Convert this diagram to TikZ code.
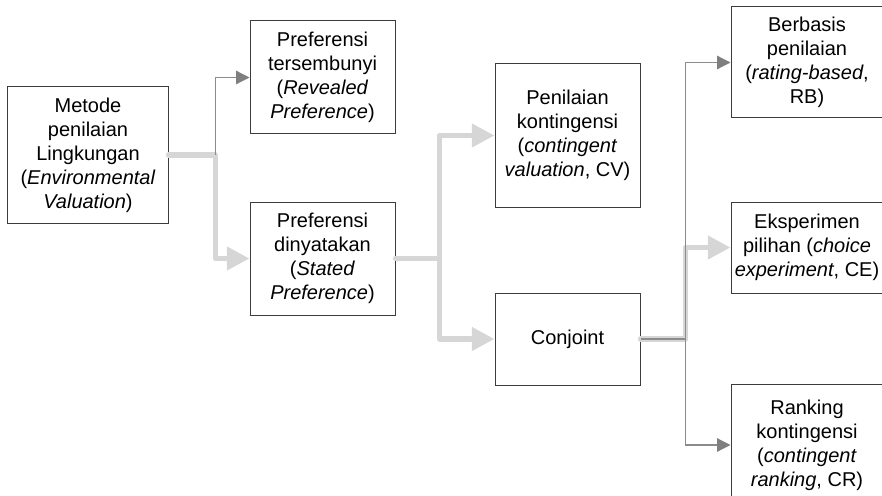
\documentclass[tikz,border=0pt]{standalone}
\usepackage{fontspec}
\setmainfont{Liberation Sans}
\usetikzlibrary{positioning}
\usetikzlibrary{calc}
\usetikzlibrary{arrows.meta}
\definecolor{boxline}{HTML}{3C3C3C}
\definecolor{lightline}{HTML}{D6D6D6}
\definecolor{thinline}{HTML}{8C8C8C}
\definecolor{arrhead}{HTML}{7F7F7F}

\begin{document}
\begin{tikzpicture}[
        box/.style={draw=boxline, line width=0.75pt, fill=white, align=center, inner sep=2pt,
            minimum width=108.75pt, font=\fontsize{15pt}{18pt}\selectfont},
        thickarr/.style={draw=lightline, line width=4pt, line join=round, line cap=round,
            -{Triangle[length=17pt, width=17pt]}},
        thinarr/.style={draw=thinline, line width=0.9pt,
            -{Triangle[length=10pt, width=10pt, color=arrhead]}}
    ]
        \useasboundingbox (-66pt,116.25pt) rectangle (595.5pt,-255.75pt);
        \clip (-66pt,116.25pt) rectangle (595.5pt,-255.75pt);

        \node[box, minimum width=120pt, minimum height=102pt] (env) at (0,0)
            {Metode\\penilaian\\Lingkungan\\(\textit{Environmental}\\\textit{Valuation})};

        \node[box, minimum height=84.75pt, right = 60.75pt of env, yshift=-77.625pt] (stated)
            {Preferensi\\dinyatakan\\(\textit{Stated}\\\textit{Preference})};
        \node[box, minimum height=84.75pt, above = 50.25pt of stated] (rev)
            {Preferensi\\tersembunyi\\(\textit{Revealed}\\\textit{Preference})};

        \node[box, minimum height=107.25pt, right = 74.25pt of stated, yshift=92.25pt] (cv)
            {Penilaian\\kontingensi\\(\textit{contingent}\\\textit{valuation}, CV)};
        \node[box, minimum height=69pt, below = 63.75pt of cv] (conj) {Conjoint};

        \node[box, minimum width=114pt, minimum height=83.25pt, right = 67.5pt of cv, yshift=54.75pt] (rb)
            {Berbasis\\penilaian\\(\textit{rating-based},\\RB)};
        \node[box, minimum width=114pt, minimum height=68.25pt, below = 62.25pt of rb] (ce)
            {Eksperimen\\pilihan (\textit{choice}\\\textit{experiment}, CE)};
        \node[box, minimum width=114pt, minimum height=91.5pt, below = 67.5pt of ce] (cr)
            {Ranking\\kontingensi\\(\textit{contingent}\\\textit{ranking}, CR)};

        \coordinate[right = 35.25pt of env.east] (j1);
        \coordinate[right = 33pt of stated.east] (j2);
        \coordinate[right = 33.75pt of conj.east] (j3);

        \draw[thickarr] (env.east) -- (j1) |- (stated.west);
        \draw[thinarr] (j1) |- (rev.west);

        \draw[thickarr] (stated.east) -- (j2) |- (cv.west);
        \draw[thickarr] (j2) |- (conj.west);

        \draw[thickarr] (conj.east) -- (j3) |- (ce.west);
        \draw[thinarr] (conj.east) -- (j3) |- (rb.west);
        \draw[thinarr] (j3) |- (cr.west);
    \end{tikzpicture}
\end{document}
